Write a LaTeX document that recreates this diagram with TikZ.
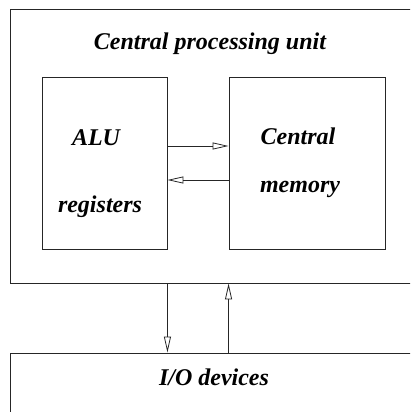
\documentclass[tikz,border=0pt]{standalone}
\usepackage{fontspec}
\setmainfont{Liberation Serif}
\usetikzlibrary{arrows.meta}
\begin{document}
\begin{tikzpicture}[x=1pt,y=-1pt,
  unitbox/.style={draw=black!85, line width=0.9pt, rectangle, inner sep=0pt},
  lbl/.style={font=\fontsize{24}{28}\selectfont\bfseries\itshape, inner sep=0pt},
  flow/.style={draw=black!85, line width=0.9pt,
    -{Triangle[open, length=16pt, width=7pt, line width=0.8pt]}}]
  \useasboundingbox (0,0) rectangle (410,412);
  \clip (0,0) rectangle (410,412);
  % outer units
  \node[unitbox, minimum width=420pt, minimum height=274pt] (cpu) at (220,146) {};
  \node[unitbox, minimum width=420pt, minimum height=80pt] (io) at (220,393) {};
  % inner units
  \node[unitbox, minimum width=125pt, minimum height=172pt] (alu) at (104.5,163) {};
  \node[unitbox, minimum width=156pt, minimum height=172pt] (mem) at (307,163) {};
  % labels
  \node[lbl] (tcpu) at (210,44) {Central processing unit};
  \node[lbl] (talu) at (96,138) {ALU};
  \node[lbl] (treg) at (100,207) {registers};
  \node[lbl] (tcen) at (298,136) {Central};
  \node[lbl] (tmem) at (300,189) {memory};
  \node[lbl] (tio) at (214,377) {I/O devices};
  % data paths
  \draw[flow] ([yshift=17pt]alu.east) -- ([yshift=17pt]mem.west);
  \draw[flow] ([yshift=-17pt]mem.west) -- ([yshift=-17pt]alu.east);
  \draw[flow] (cpu.south -| alu.east) -- (io.north -| alu.east);
  \draw[flow] (io.north -| mem.west) -- (cpu.south -| mem.west);
\end{tikzpicture}
\end{document}
